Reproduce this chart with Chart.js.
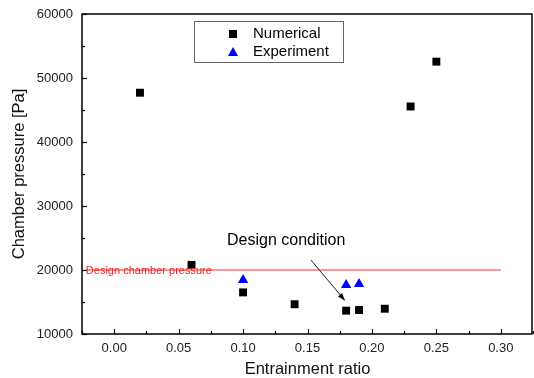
<!DOCTYPE html>
<html>
<head>
<meta charset="utf-8">
<script src="https://cdn.jsdelivr.net/npm/chart.js@4.4.0/dist/chart.umd.min.js"></script>
<style>
  html, body { margin: 0; padding: 0; background: #fff; }
</style>
</head>
<body>
<canvas id="chart" width="534" height="378"></canvas>
<script>
// Données
const numericalX = [0.02, 0.06, 0.10, 0.14, 0.18, 0.19, 0.21, 0.23, 0.25];
const numericalY = [47700, 20800, 16500, 14650, 13650, 13750, 13950, 45550, 52550];
const experimentX = [0.10, 0.18, 0.19];
const experimentY = [18450, 17650, 17800];
const designLineX = [-0.022, 0.30];
const designLineY = [20000, 20000];
const xTicks = [0.00, 0.05, 0.10, 0.15, 0.20, 0.25, 0.30];
const yTicks = [10000, 20000, 30000, 40000, 50000, 60000];
// Flèche "Design condition" (coordonnées en données)
const arrowFrom = [0.1527, 21550];
const arrowTo = [0.179, 15250];

const toPoints = (xs, ys) => xs.map((x, i) => ({ x: x, y: ys[i] }));

// Plugin pour le cadre, les graduations intérieures, la légende et les textes
const decorPlugin = {
    id: 'decor',
    afterDraw(chart) {
        const ctx = chart.ctx;
        const a = chart.chartArea;
        const xs = chart.scales.x;
        const ys = chart.scales.y;
        ctx.save();

        // graduations vers l'intérieur
        ctx.strokeStyle = '#000';
        ctx.lineWidth = 1.2;
        for (let v = -0.025; v <= 0.3251; v += 0.025) {
            const px = Math.round(xs.getPixelForValue(v)) + 0.5;
            const major = Math.abs(Math.round(v / 0.05) * 0.05 - v) < 1e-6;
            ctx.beginPath();
            ctx.moveTo(px, a.bottom);
            ctx.lineTo(px, a.bottom - (major ? 5 : 3));
            ctx.stroke();
        }
        for (let v = 10000; v <= 60000; v += 5000) {
            const py = Math.round(ys.getPixelForValue(v)) + 0.5;
            const major = v % 10000 === 0;
            ctx.beginPath();
            ctx.moveTo(a.left, py);
            ctx.lineTo(a.left + (major ? 5 : 3), py);
            ctx.stroke();
        }

        // cadre
        ctx.lineWidth = 1.5;
        ctx.strokeRect(a.left, a.top, a.right - a.left - 1, a.bottom - a.top);

        // texte de la ligne de conception
        ctx.fillStyle = '#ee2222';
        ctx.font = '11px "Liberation Sans", Arial, sans-serif';
        ctx.textAlign = 'left';
        ctx.textBaseline = 'middle';
        ctx.fillText('Design chamber pressure', xs.getPixelForValue(designLineX[0]), ys.getPixelForValue(20000) + 1);

        // annotation "Design condition"
        ctx.fillStyle = '#000';
        ctx.font = '16px "Liberation Sans", Arial, sans-serif';
        ctx.fillText('Design condition', 227, 241);

        const x1 = xs.getPixelForValue(arrowFrom[0]);
        const y1 = ys.getPixelForValue(arrowFrom[1]);
        const x2 = xs.getPixelForValue(arrowTo[0]);
        const y2 = ys.getPixelForValue(arrowTo[1]);
        ctx.strokeStyle = '#222';
        ctx.lineWidth = 1;
        ctx.beginPath();
        ctx.moveTo(x1, y1);
        ctx.lineTo(x2, y2);
        ctx.stroke();
        const ang = Math.atan2(y2 - y1, x2 - x1);
        ctx.fillStyle = '#000';
        ctx.beginPath();
        ctx.moveTo(x2, y2);
        ctx.lineTo(x2 - 8 * Math.cos(ang - 0.35), y2 - 8 * Math.sin(ang - 0.35));
        ctx.lineTo(x2 - 8 * Math.cos(ang + 0.35), y2 - 8 * Math.sin(ang + 0.35));
        ctx.closePath();
        ctx.fill();

        // légende
        ctx.strokeStyle = '#666';
        ctx.lineWidth = 1;
        ctx.strokeRect(194.5, 21.5, 149, 41);
        ctx.fillStyle = '#000';
        ctx.fillRect(229, 30, 8, 8);
        ctx.fillStyle = '#0000ff';
        ctx.beginPath();
        ctx.moveTo(233, 47);
        ctx.lineTo(238, 56);
        ctx.lineTo(228, 56);
        ctx.closePath();
        ctx.fill();
        ctx.fillStyle = '#000';
        ctx.font = '15px "Liberation Sans", Arial, sans-serif';
        ctx.fillText('Numerical', 253, 34);
        ctx.fillText('Experiment', 253, 52);

        ctx.restore();
    }
};

const ctx = document.getElementById('chart').getContext('2d');
const myChart = new Chart(ctx, {
    type: 'scatter',
    data: {
        datasets: [
            {
                label: 'Numerical',
                data: toPoints(numericalX, numericalY),
                pointStyle: 'rect',
                pointRadius: 5.6,
                backgroundColor: '#000',
                borderColor: '#000',
                borderWidth: 0
            },
            {
                label: 'Experiment',
                data: toPoints(experimentX, experimentY),
                pointStyle: 'triangle',
                pointRadius: 6,
                backgroundColor: '#0000ff',
                borderColor: '#0000ff',
                borderWidth: 0
            },
            {
                label: 'Design chamber pressure',
                data: toPoints(designLineX, designLineY),
                showLine: true,
                pointRadius: 0,
                borderColor: '#ee3333',
                borderWidth: 1,
                fill: false
            }
        ]
    },
    options: {
        responsive: false,
        animation: false,
        devicePixelRatio: 1,
        layout: { autoPadding: false, padding: { top: 14, right: 1, left: 0, bottom: 0 } },
        plugins: {
            legend: { display: false },
            tooltip: { enabled: false }
        },
        scales: {
            x: {
                type: 'linear',
                min: -0.025,
                max: 0.325,
                grid: { display: false, drawTicks: false },
                border: { display: false },
                afterBuildTicks: (scale) => { scale.ticks = xTicks.map(v => ({ value: v })); },
                afterFit: (scale) => {
                    scale.height = 44;
                    scale.paddingLeft = 0;
                    scale.paddingRight = 0;
                },
                ticks: {
                    padding: 7,
                    color: '#222',
                    font: { family: '"Liberation Sans", Arial, sans-serif', size: 13 },
                    callback: (v) => Number(v).toFixed(2)
                },
                title: {
                    display: true,
                    text: 'Entrainment ratio',
                    color: '#111',
                    padding: 0,
                    font: { family: '"Liberation Sans", Arial, sans-serif', size: 16.5, lineHeight: 1 }
                }
            },
            y: {
                type: 'linear',
                min: 10000,
                max: 60000,
                grid: { display: false, drawTicks: false },
                border: { display: false },
                afterBuildTicks: (scale) => { scale.ticks = yTicks.map(v => ({ value: v })); },
                afterFit: (scale) => {
                    scale.width = 82;
                    scale.paddingTop = 0;
                    scale.paddingBottom = 0;
                },
                ticks: {
                    padding: 9,
                    color: '#222',
                    font: { family: '"Liberation Sans", Arial, sans-serif', size: 13 },
                    callback: (v) => String(v)
                },
                title: {
                    display: true,
                    text: 'Chamber pressure [Pa]',
                    color: '#111',
                    padding: { top: 10, bottom: 0 },
                    font: { family: '"Liberation Sans", Arial, sans-serif', size: 16.5 }
                }
            }
        }
    },
    plugins: [decorPlugin]
});
</script>
</body>
</html>
